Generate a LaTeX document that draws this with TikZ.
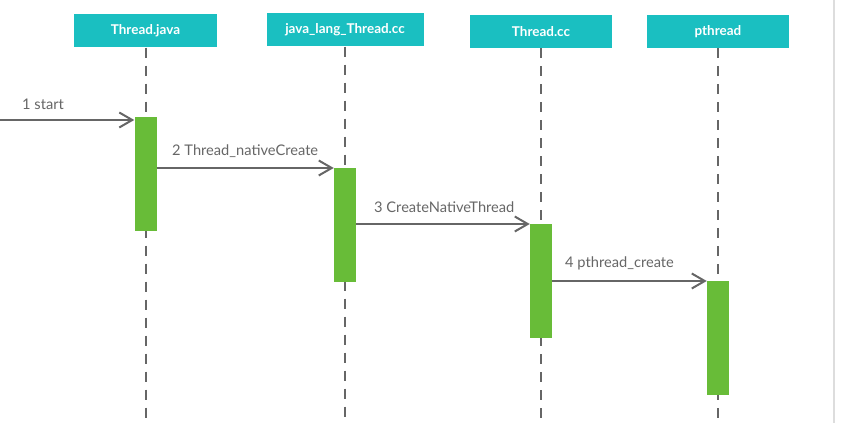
\documentclass[tikz,border=0pt]{standalone}
\usepackage{fontspec}
\setmainfont{Lato}
\usepackage{tikz}
\usetikzlibrary{arrows.meta,positioning}

\definecolor{headteal}{HTML}{1ABFC1}
\definecolor{barGreen}{HTML}{68BC38}
\definecolor{msgGrey}{HTML}{666666}
\definecolor{edgeGrey}{HTML}{DDDDDD}

\begin{document}
\begin{tikzpicture}[x=0.3mm, y=-0.3mm,
  header/.style={fill=headteal, text=white, font=\fontsize{11.5}{13}\selectfont\bfseries,
    minimum height=9.9mm, inner sep=0pt},
  lifeline/.style={draw=msgGrey, line width=0.6mm, dash pattern=on 3mm off 2.4mm},
  actbar/.style={fill=barGreen, minimum width=6.6mm, minimum height=34mm, inner sep=0pt, anchor=north},
  msg/.style={draw=msgGrey, line width=0.6mm, -{Straight Barb[length=3.9mm, width=4.5mm, line width=0.6mm]}},
  msglabel/.style={text=msgGrey, font=\fontsize{12.5}{14}\selectfont, anchor=south west, inner sep=0pt}]

  \useasboundingbox (0,0) rectangle (854,423);

  % Right margin line
  \draw[edgeGrey, line width=0.4mm] (834,0) -- (834,423);

  % Headers
  \node[header, minimum width=42.9mm] (hjava) at (145.5,31) {Thread.java};
  \node[header, minimum width=47.1mm] (hlang) at (345,30) {java\_lang\_Thread.cc};
  \node[header, minimum width=42.6mm] (hcc) at (541,31.5) {Thread.cc};
  \node[header, minimum width=42.6mm] (hpth) at (718,31.5) {pthread};

  % Lifelines
  \foreach \h in {hjava, hlang, hcc, hpth} {
    \coordinate (\h end) at (\h.south |- 0,423);
    \draw[lifeline] (\h.south) -- (\h end);
  }

  % Activation bars
  \node[actbar] (bjava) at (hjava.south |- 0,117) {};
  \node[actbar] (blang) at (hlang.south |- 0,168) {};
  \node[actbar] (bcc) at (hcc.south |- 0,224) {};
  \node[actbar] (bpth) at (hpth.south |- 0,281) {};

  % Messages
  \coordinate (caller) at (0,120);
  \draw[msg] (caller) -- (caller -| bjava.west);
  \node[msglabel] (l1) at (22,110) {1 start};

  \draw[msg] (blang.north west -| bjava.east) -- (blang.north west);
  \node[msglabel] (l2) at (172,158) {2 Thread\_nativeCreate};

  \draw[msg] (bcc.north west -| blang.east) -- (bcc.north west);
  \node[msglabel] (l3) at (374,213) {3 CreateNativeThread};

  \draw[msg] (bpth.north west -| bcc.east) -- (bpth.north west);
  \node[msglabel] (l4) at (565,270) {4 pthread\_create};
\end{tikzpicture}
\end{document}
